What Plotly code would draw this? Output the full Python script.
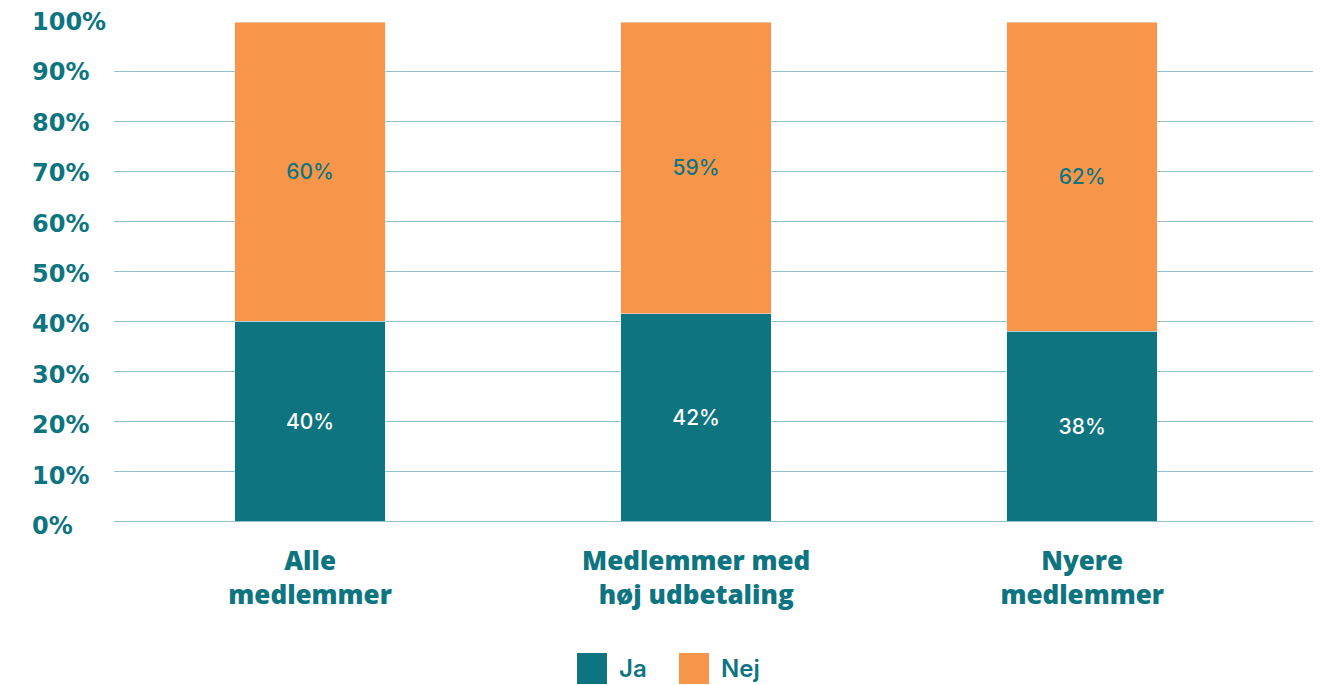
import plotly.graph_objects as go

categories = ["Alle<br>medlemmer", "Medlemmer med<br>høj udbetaling", "Nyere<br>medlemmer"]
ja = [40, 42, 38]
nej = [60, 59, 62]
y_ticks = [0, 10, 20, 30, 40, 50, 60, 70, 80, 90, 100]

TEAL = "#0E7580"
ORANGE = "#F7964A"
GRID = "#95C1CC"

fig = go.Figure()
fig.add_trace(go.Bar(
    name="Ja", x=categories, y=ja, marker_color=TEAL, width=0.39,
    text=[f"{v}%" for v in ja], textposition="inside", insidetextanchor="middle",
    textfont=dict(family="Inter", size=21, color="white", weight=500), showlegend=False,
))
fig.add_trace(go.Bar(
    name="Nej", x=categories, y=nej, marker_color=ORANGE, width=0.39,
    text=[f"{v}%" for v in nej], textposition="inside", insidetextanchor="middle",
    textfont=dict(family="Inter", size=21, color=TEAL, weight=500), showlegend=False,
))

# page body adds an 8px offset, so the figure is a bit smaller
fig.update_layout(
    barmode="stack",
    barnorm="percent",
    width=1321, height=677,
    margin=dict(l=106, r=16, t=14, b=164),
    plot_bgcolor="white", paper_bgcolor="white",
    uniformtext=dict(minsize=8, mode="show"),
)
fig.update_xaxes(
    range=[-0.508, 2.598], showgrid=False, showline=False, zeroline=False,
    ticks="", ticklabelstandoff=22,
    tickfont=dict(family="Open Sans", size=26, color=TEAL, weight=800),
)
fig.update_yaxes(
    range=[0, 100], tickvals=y_ticks, showticklabels=False,
    gridcolor=GRID, gridwidth=1, zeroline=True, zerolinecolor=GRID, zerolinewidth=1,
)

# left-aligned y tick labels
for v in y_ticks:
    fig.add_annotation(
        x=-0.07, xref="paper", y=v, yref="y", xanchor="left", yanchor="middle",
        text=f"{v}%", showarrow=False, yshift=-(100 - v) * 0.05,
        font=dict(family="DejaVu Sans", size=24, color=TEAL, weight="bold"),
    )

# legend keys
for x0, label, color in [(577, "Ja", TEAL), (679, "Nej", ORANGE)]:
    fig.add_shape(
        type="rect", xref="paper", yref="paper",
        x0=(x0 - 114) / 1199, x1=(x0 + 30 - 114) / 1199,
        y0=(521 - 684) / 499, y1=(521 - 653) / 499,
        fillcolor=color, line_width=0,
    )
    fig.add_annotation(
        x=(x0 + 40 - 114) / 1199, y=(521 - 668) / 499, xref="paper", yref="paper",
        xanchor="left", yanchor="middle", text=label, showarrow=False,
        font=dict(family="Inter", size=24, color=TEAL, weight=600),
    )

fig.write_html("out.html")
